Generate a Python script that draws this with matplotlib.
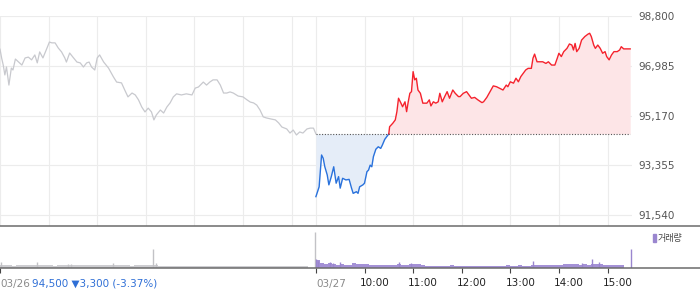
import numpy as np
import matplotlib.pyplot as plt
from matplotlib.patches import Rectangle
from matplotlib.transforms import blended_transform_factory

# 03/26 session, minutes after 09:00
prev_min = [0, 2, 4, 6, 8, 11, 14, 16, 19, 23, 27, 31, 35, 39, 43, 46, 49, 53, 58, 61,
            64, 68, 72, 76, 80, 82, 86, 90, 95, 99, 103, 107, 110, 113, 117, 120, 123, 128, 134, 140,
            144, 150, 154, 158, 163, 167, 171, 175, 179, 183, 187, 190, 193, 198, 202, 206, 210, 214, 218, 224,
            230, 237, 241, 245, 251, 255, 259, 263, 268, 272, 276, 280, 284, 288, 294, 300, 305, 309, 313, 317,
            321, 325, 329, 335, 340, 344, 348, 354, 358, 362, 366, 370, 374, 379, 383, 387, 390]
prev_price = [97590, 97270, 97010, 96650, 96940, 96280, 96900, 96830, 97230, 97120,
              97010, 97270, 97300, 97200, 97380, 97090, 97490, 97270, 97630, 97850,
              97820, 97820, 97630, 97490, 97270, 97120, 97450, 97300, 97120, 97090,
              96940, 97090, 97120, 96940, 96830, 97270, 97380, 97120, 96900, 96580,
              96390, 96360, 96100, 95850, 95990, 95920, 95740, 95480, 95300, 95440,
              95300, 95010, 95190, 95370, 95260, 95480, 95630, 95850, 95960, 95920,
              95960, 95920, 96170, 96210, 96390, 96280, 96390, 96470, 96470, 96280,
              95990, 95990, 96030, 95990, 95880, 95850, 95740, 95660, 95630, 95550,
              95370, 95120, 95080, 95040, 95010, 94900, 94750, 94680, 94530, 94640,
              94460, 94570, 94530, 94680, 94710, 94710, 94500]

# 03/27 session, minutes after 09:00
today_min = [0, 4, 7, 9, 11, 14, 16, 19, 22, 25, 28, 30, 33, 37, 41, 44, 46, 50, 52, 54,
             58, 60, 63, 65, 67, 69, 71, 74, 77, 80, 82, 85, 88, 90, 91, 95, 98, 100, 102, 105,
             107, 110, 112, 114, 116, 118, 120, 122, 124, 126, 129, 132, 137, 140, 142, 145, 148, 151, 153, 156,
             159, 162, 165, 169, 172, 176, 178, 182, 186, 189, 192, 196, 200, 205, 207, 211, 215, 219, 223, 227,
             231, 235, 237, 240, 244, 247, 250, 253, 256, 259, 262, 266, 268, 270, 273, 276, 280, 284, 287, 291,
             295, 298, 300, 303, 306, 310, 313, 316, 318, 320, 322, 325, 328, 332, 336, 338, 340, 343, 345, 348,
             351, 354, 357, 359, 362, 365, 368, 372, 375, 377, 380, 388]
today_price = [92210, 92570, 93730, 93610, 93300, 93000, 92640, 92940, 93300, 92700,
               92940, 92520, 92880, 92820, 92840, 92520, 92330, 92390, 92330, 92570,
               92640, 92700, 93120, 93180, 93360, 93300, 93670, 93940, 94030, 93970,
               94090, 94300, 94420, 94500, 94760, 94890, 95010, 95310, 95800, 95620,
               95490, 95670, 95310, 95670, 95980, 96040, 96770, 96470, 96530, 96100,
               95980, 95620, 95620, 95740, 95520, 95670, 95620, 95670, 95980, 95670,
               95860, 96040, 95800, 96100, 95980, 95860, 95860, 95980, 96040, 95920,
               95800, 95830, 95740, 95640, 95670, 95830, 96040, 96250, 96220, 96160,
               96100, 96280, 96220, 96400, 96350, 96530, 96400, 96590, 96710, 96830,
               96890, 96890, 97260, 97410, 97130, 97130, 97130, 97070, 97130, 97010,
               97010, 97260, 97440, 97320, 97500, 97620, 97780, 97740, 97560, 97800,
               97500, 97620, 97920, 98050, 98140, 98170, 98050, 97740, 97620, 97740,
               97620, 97440, 97500, 97320, 97200, 97380, 97500, 97500, 97560, 97680,
               97600, 97600]

prev_close = 94500
prev_change = -3300
price_ticks = [91540, 93355, 95170, 96985, 98800]

# volume in 5-minute blocks from 09:00, plus single-minute spikes
vol_step = 5
prev_vol = [14, 11, 12, 10, 13, 12, 11, 12, 14, 12, 11, 13, 12, 10, 12, 13, 11, 12, 14, 13,
            12, 11, 12, 13, 12, 11, 12, 13, 14, 12, 11, 12, 10, 12, 11, 12, 13, 12, 11, 10,
            9, 8, 9, 8, 9, 10, 8, 9, 8, 9, 8, 9, 10, 9, 8, 9, 8, 9, 8, 9,
            10, 9, 8, 9, 9, 8, 10, 9, 8, 9, 9, 8, 9, 10, 9, 8, 0, 0]
today_vol = [40, 25, 20, 22, 20, 15, 20, 12, 12, 22, 18, 18, 17,
             12, 11, 12, 12, 11, 12, 12,
             17, 14, 13, 17, 16, 16, 15,
             9, 8, 9, 8, 9, 8, 12,
             8, 9, 8, 8, 9, 8, 8, 9, 8, 8, 9, 8, 8,
             12, 8, 9, 12, 8, 9, 12,
             11, 12, 11, 12, 11, 12, 12,
             17, 17, 18, 17, 15, 17, 15, 17, 16, 16,
             13, 14, 13, 13, 14, 0, 0]
prev_spike_min = [1, 46, 84, 88, 140, 189, 193, 389]
prev_spike_vol = [28, 28, 17, 20, 22, 92, 25, 180]
today_spike_min = [0, 2, 18, 21, 30, 102, 118, 268, 329, 341, 349, 389]
today_spike_vol = [45, 35, 30, 25, 28, 28, 25, 33, 25, 42, 28, 95]

day_len = 390
hour_min = [60, 120, 180, 240, 300, 360]
hour_labels = ['10:00', '11:00', '12:00', '13:00', '14:00', '15:00']

W, H = 700, 289
px_min = 0.81  # pixels per minute

fig = plt.figure(figsize=(W / 100, H / 100), dpi=100)

# price panel
ax = fig.add_axes([0, 1 - 225.7 / H, 2 * day_len * px_min / W, (225.7 - 16) / H])
tx = np.array(today_min) + day_len
tp = np.array(today_price)
k = int(np.argmax(tp >= prev_close))

ax.fill_between(tx, tp, prev_close, where=tp <= prev_close, interpolate=True,
                color='#e5edf8', lw=0)
ax.fill_between(tx, tp, prev_close, where=tp >= prev_close, interpolate=True,
                color='#fde5e7', lw=0)
ax.plot(prev_min, prev_price, color='#c8c9ce', lw=0.9)
ax.plot(tx[:k + 1], tp[:k + 1], color='#2a72dc', lw=1.0)
ax.plot(tx[k:], tp[k:], color='#f5222d', lw=1.0)
ax.hlines(prev_close, day_len, tx[-1], colors='#555555', linestyles=(0, (1, 1.5)), lw=0.8)

grid_min = [0] + hour_min + [day_len] + [day_len + m for m in hour_min]
ax.set_xlim(0, 2 * day_len)
ax.set_ylim(91150, 98800)
ax.set_xticks(grid_min)
ax.set_yticks(price_ticks)
ax.set_yticklabels([f'{v:,}' for v in price_ticks])
ax.yaxis.tick_right()
ax.tick_params(length=0, labelbottom=False, labelright=True, pad=5,
               labelsize=7.5, labelcolor='#555555')
ax.grid(color='#ececec', lw=0.8)
ax.set_axisbelow(True)
for s in ax.spines.values():
    s.set_visible(False)

# volume panel
axv = fig.add_axes([0, 1 - 268.3 / H, 1, (268.3 - 225.7) / H])
axv.set_xlim(0, W / px_min)
axv.set_ylim(-4, (268.3 - 225.7) * 5 - 4)
vx = np.arange(len(prev_vol)) * vol_step
axv.bar(vx, prev_vol, width=vol_step, align='edge', color='#cdcdd1', lw=0)
axv.bar(vx + day_len, today_vol, width=vol_step, align='edge', color='#a491d6', lw=0)
axv.vlines(prev_spike_min, 0, prev_spike_vol, colors='#c2c2c6', lw=1)
axv.vlines(np.array(today_spike_min) + day_len, 0, today_spike_vol, colors='#9a86cf', lw=1)
for side in ['left', 'right']:
    axv.spines[side].set_visible(False)
for side in ['top', 'bottom']:
    axv.spines[side].set_color('#6b6b6b')
    axv.spines[side].set_linewidth(1.1)
axv.set_yticks([])
axv.set_xticks([0, day_len] + [day_len + m for m in hour_min])
axv.tick_params(axis='x', length=3.6, width=0.8, color='#444444', labelbottom=False)

tr = blended_transform_factory(axv.transData, fig.transFigure)
ly = 1 - 286.5 / H
axv.text(0, ly, '03/26', transform=tr, fontsize=7.5, color='#8a8a8a', va='baseline')
pct = prev_change / (prev_close - prev_change) * 100
axv.text(31.7 / px_min, ly, f'{prev_close:,} \u25bc{abs(prev_change):,} ({pct:.2f}%)',
         transform=tr, fontsize=7.5, color='#2f6fd6', va='baseline')
axv.text(day_len + 1, ly, '03/27', transform=tr, fontsize=7.5, color='#8a8a8a', va='baseline')
for m, lab in zip(hour_min, hour_labels):
    axv.text(day_len + m - 6, ly, lab, transform=tr, fontsize=7.5, color='#222222', va='baseline')

# legend
fig.patches.append(Rectangle((653.3 / W, 1 - 241.7 / H), 2.4 / W, 7.7 / H,
                             transform=fig.transFigure, color='#9a86cf'))
fig.text(658 / W, 1 - 238 / H, '거래량', fontsize=6.5, color='#444444', va='center',
         family=['Noto Sans CJK KR', 'DejaVu Sans'])

fig.savefig('out.png', dpi=100)
